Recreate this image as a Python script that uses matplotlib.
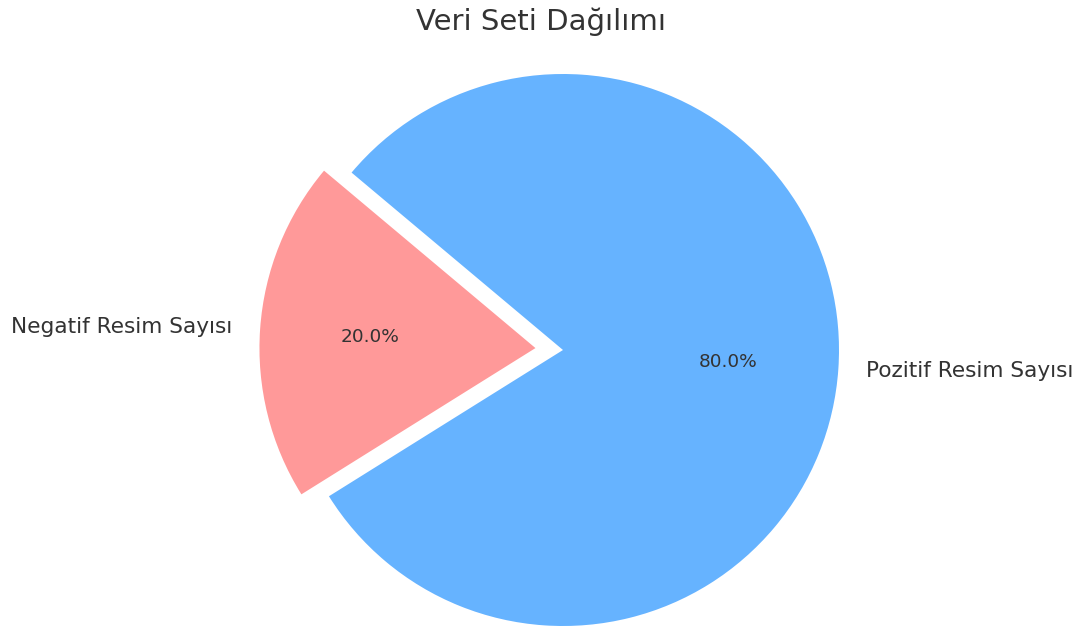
import matplotlib
matplotlib.use("Agg")
import matplotlib.pyplot as plt

# Veri
etiketler = ["Negatif Resim Sayısı", "Pozitif Resim Sayısı"]
degerler = [20, 80]
renkler = ["#ff9999", "#66b3ff"]
patlama = (0.1, 0)

fig = plt.figure(figsize=(10.83, 6.28), dpi=100)
ax = fig.add_axes([0, 0, 1, 1])

ax.pie(degerler, labels=etiketler, colors=renkler, explode=patlama,
       autopct="%1.1f%%", startangle=140,
       textprops={"color": "#333333", "fontsize": 15.6})

# yüzde yazılarının boyutu
for t in ax.texts:
    if t.get_text().endswith("%"):
        t.set_fontsize(13.3)

# merkez ve yarıçap pikselden
r = 276.0
cx, cy = 563.0, 350.0
ax.set_xlim(-cx / r, (1083 - cx) / r)
ax.set_ylim(-(628 - cy) / r, cy / r)
ax.set_aspect("auto")
ax.axis("off")

fig.text(0.5, 1 - 22 / 628, "Veri Seti Dağılımı", ha="center", va="center",
         fontsize=21, color="#333333")

fig.savefig("out.png", dpi=100, facecolor="white")
